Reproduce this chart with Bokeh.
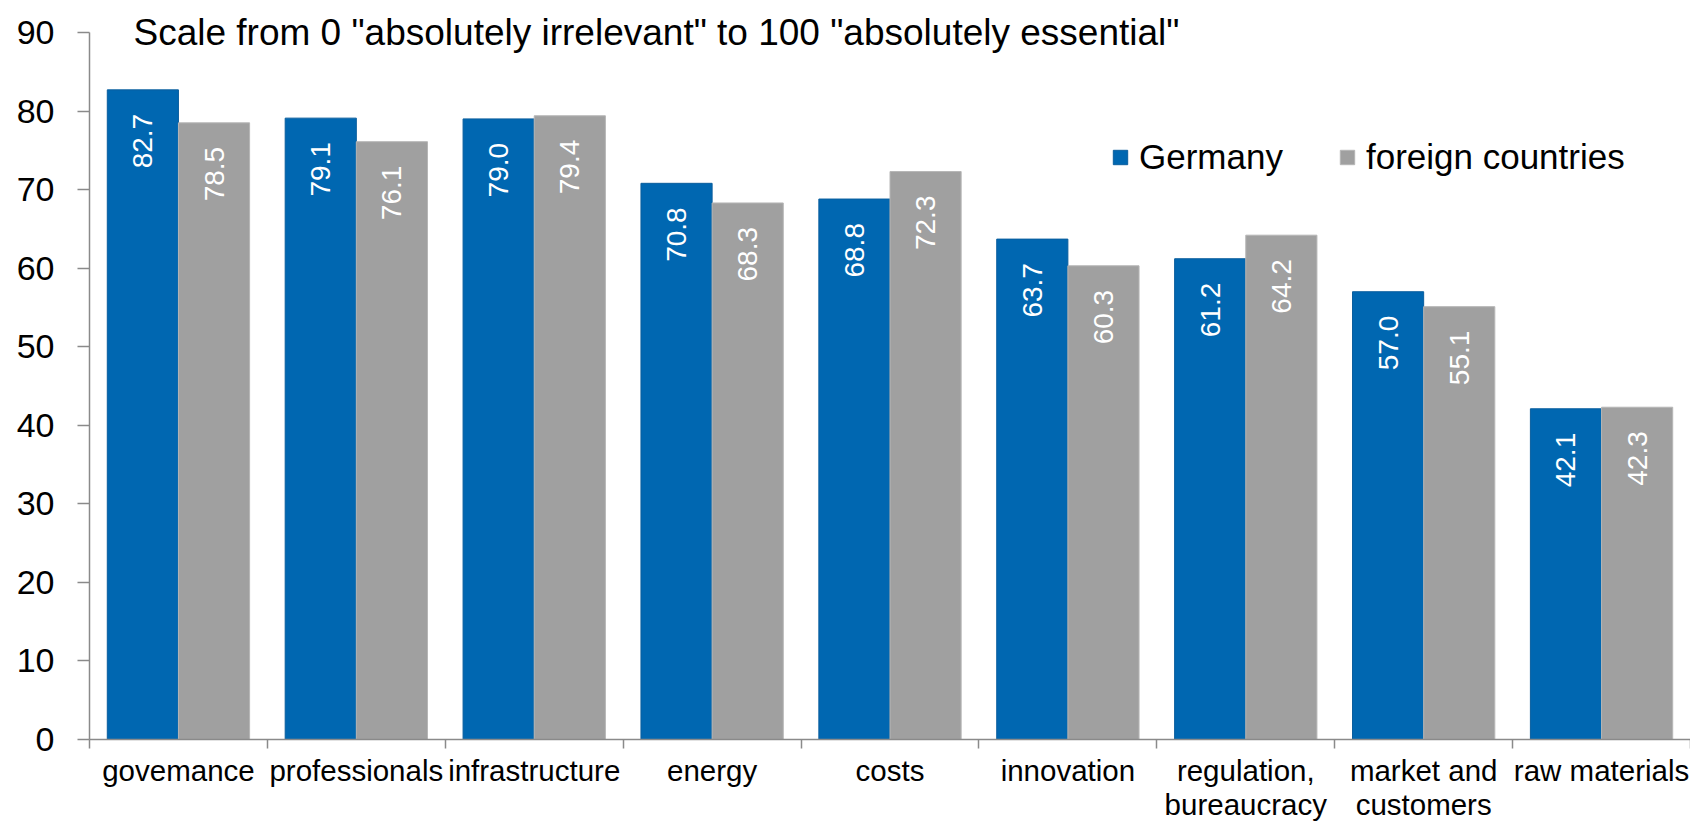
import math
from bokeh.plotting import figure
from bokeh.models import Range1d, FixedTicker, Legend, LegendItem, Label, ColumnDataSource, LinearAxis
from bokeh.core.properties import value
from bokeh.embed import file_html
from bokeh.resources import INLINE

categories = ["govemance", "professionals", "infrastructure", "energy", "costs",
              "innovation", "regulation,\nbureaucracy", "market and\ncustomers", "raw materials"]
germany = [82.7, 79.1, 79.0, 70.8, 68.8, 63.7, 61.2, 57.0, 42.1]
foreign = [78.5, 76.1, 79.4, 68.3, 72.3, 60.3, 64.2, 55.1, 42.3]
y_ticks = [0, 10, 20, 30, 40, 50, 60, 70, 80, 90]
title_text = 'Scale from 0 "absolutely irrelevant" to 100 "absolutely essential"'

BLUE = "#0067B1"
GREY = "#A0A0A0"
AXIS = "#8A8A8A"
FONT = "Liberation Sans"

n = len(categories)
idx = list(range(n))

W, H = 1690, 822
left, bottom = 89, 83
frame_w = W - left
frame_h = H - bottom                 # frame spans the full height above the x axis
px_per_unit = 707 / 90.0             # 90 sits 32 px below the top of the page
y_end = frame_h / px_per_unit

p = figure(frame_width=frame_w, frame_height=frame_h, output_backend="svg", toolbar_location=None,
           x_range=Range1d(0, n), y_range=Range1d(0, y_end),
           min_border_left=left, min_border_right=0, min_border_top=0, min_border_bottom=bottom,
           x_axis_type=None, y_axis_type=None)
p.outline_line_color = None
p.xgrid.visible = False
p.ygrid.visible = False
p.background_fill_color = "white"
p.border_fill_color = "white"

src = ColumnDataSource(dict(
    xg=[i + 0.3 for i in idx], xf=[i + 0.7 for i in idx],
    g=germany, f=foreign,
    gl=[f"{v:.1f}" for v in germany], fl=[f"{v:.1f}" for v in foreign],
    gy=[v - 24 / px_per_unit for v in germany], fy=[v - 24 / px_per_unit for v in foreign],
))

rg = p.vbar(x="xg", top="g", bottom=0, width=0.4, source=src, fill_color=BLUE, line_color="#0A5E9E", line_width=1)
rf = p.vbar(x="xf", top="f", bottom=0, width=0.4, source=src, fill_color=GREY, line_color="#B6B6B6", line_width=1)

for xcol, ycol, lcol in (("xg", "gy", "gl"), ("xf", "fy", "fl")):
    p.text(x=xcol, y=ycol, text=lcol, source=src, angle=math.pi / 2,
           text_align="right", text_baseline="middle", text_color="white",
           text_font=value(FONT), text_font_size="28px")

# y axis
yaxis = LinearAxis(ticker=FixedTicker(ticks=y_ticks), bounds=(0, 90))
yaxis.axis_line_color = AXIS
yaxis.axis_line_width = 1.5
yaxis.major_tick_line_color = AXIS
yaxis.major_tick_line_width = 1.5
yaxis.major_tick_in = 0
yaxis.major_tick_out = 12
yaxis.minor_tick_line_color = None
yaxis.major_label_text_font = FONT
yaxis.major_label_text_font_size = "34px"
yaxis.major_label_text_color = "black"
yaxis.major_label_standoff = 23
p.add_layout(yaxis, "left")

# x axis: labels at category centres, ticks at category boundaries
centres = [i + 0.5 for i in idx]
xaxis = LinearAxis(ticker=FixedTicker(ticks=centres, minor_ticks=[float(i) for i in range(n + 1)]))
xaxis.major_label_overrides = {c: lab for c, lab in zip(centres, categories)}
xaxis.axis_line_color = AXIS
xaxis.axis_line_width = 1.5
xaxis.major_tick_line_color = None
xaxis.major_tick_in = 0
xaxis.major_tick_out = 9
xaxis.minor_tick_line_color = AXIS
xaxis.minor_tick_line_width = 1.5
xaxis.minor_tick_in = 0
xaxis.minor_tick_out = 9
xaxis.major_label_text_font = FONT
xaxis.major_label_text_font_size = "29.5px"
xaxis.major_label_text_color = "black"
xaxis.major_label_standoff = 5
xaxis.major_label_text_line_height = 1.05
p.add_layout(xaxis, "below")

# title inside chart area
p.add_layout(Label(x=(133 - left) / (frame_w / n), y=(frame_h - 32) / px_per_unit, text=title_text,
                   text_font=FONT, text_font_size="37px", text_color="black",
                   text_baseline="alphabetic", text_align="left"))

legend = Legend(items=[LegendItem(label="Germany", renderers=[rg]),
                       LegendItem(label="foreign countries", renderers=[rf])],
                orientation="horizontal", location=(1111 - left, frame_h - 177),
                glyph_width=18, glyph_height=18, label_standoff=10, spacing=55,
                padding=0, margin=0, border_line_color=None, background_fill_alpha=0,
                label_text_font=FONT, label_text_font_size="35px", label_text_color="black")
p.add_layout(legend)

open("out.html", "w").write(file_html(p, INLINE))
